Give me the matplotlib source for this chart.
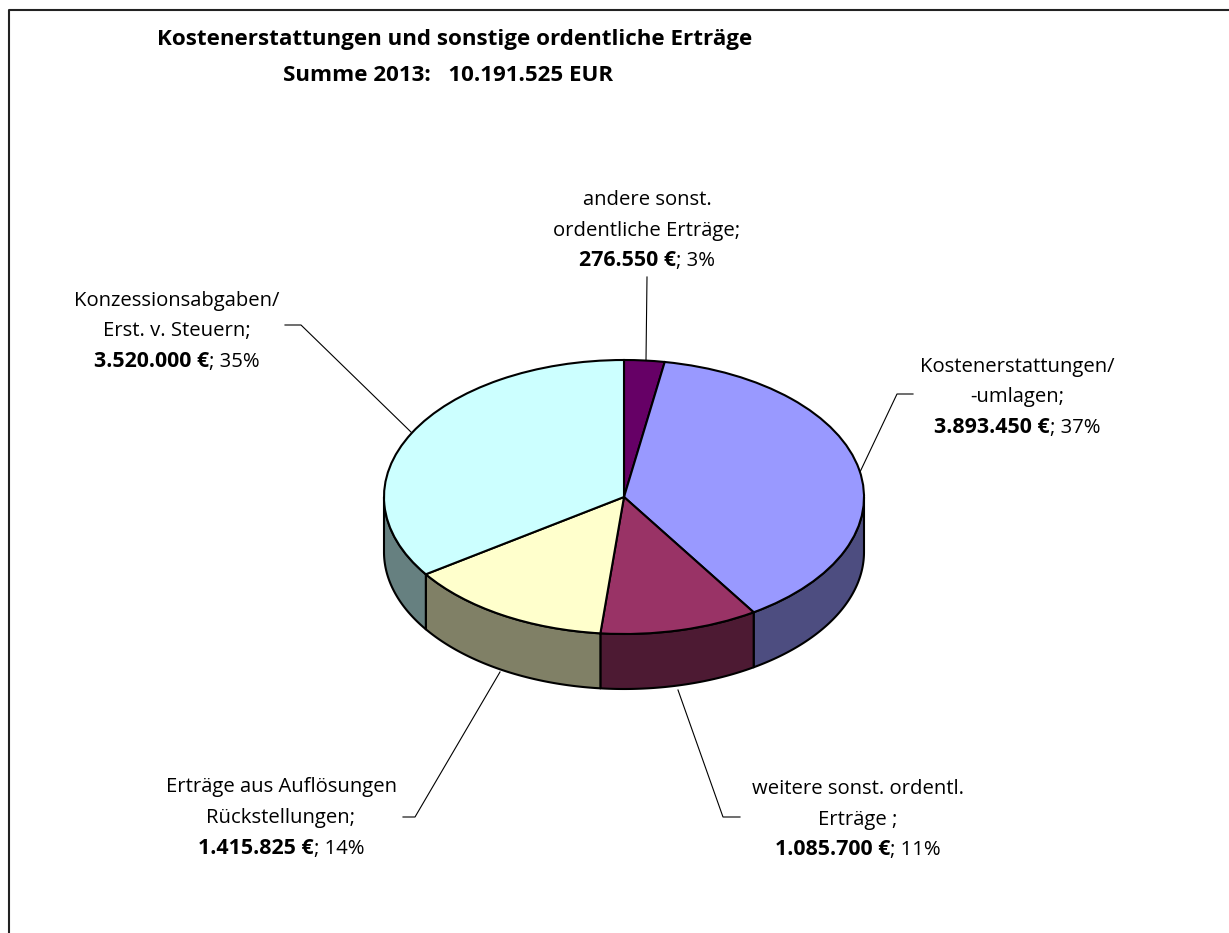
import matplotlib
matplotlib.use('Agg')
import matplotlib.pyplot as plt
import numpy as np
from matplotlib.transforms import Affine2D
from matplotlib.patches import Polygon

plt.rcParams['font.family'] = ['Open Sans', 'DejaVu Sans']

title = ['Kostenerstattungen und sonstige ordentliche Erträge',
         'Summe 2013:   10.191.525 EUR']
names = [['andere sonst.', 'ordentliche Erträge;'],
         ['Kostenerstattungen/', '-umlagen;'],
         ['weitere sonst. ordentl.', 'Erträge ;'],
         ['Erträge aus Auflösungen', 'Rückstellungen;'],
         ['Konzessionsabgaben/', 'Erst. v. Steuern;']]
values = [276550, 3893450, 1085700, 1415825, 3520000]
amounts = ['276.550 €', '3.893.450 €', '1.085.700 €', '1.415.825 €', '3.520.000 €']
percents = ['3%', '37%', '11%', '14%', '35%']
top_colors = ['#660066', '#9999FF', '#993366', '#FFFFCC', '#CCFFFF']
side_colors = ['#330033', '#4D4D80', '#4D1A33', '#808066', '#668080']

W, H = 1229, 933
cx, cy, rx, ry, depth = 624, H - 497, 240, 137, 55

# label layout, pixels from the top left of the picture (text baselines)
label_x = [647, 1017, 858, 281, 177]
label_y = [[205, 236, 266], [372, 402, 433], [794, 825, 855], [792, 823, 854], [306, 336, 367]]
leaders = [[(647, 277), (646, 360)],
           [(913, 394), (897, 394), (860, 472)],
           [(740, 817), (723, 817), (678, 690)],
           [(403, 817), (415, 817), (500, 672)],
           [(285, 325), (301, 325), (412, 433)]]

fig = plt.figure(figsize=(W / 100, H / 100), dpi=100)
ax = fig.add_axes([0, 0, 1, 1])

wedges, _ = ax.pie(values, colors=top_colors, startangle=90, counterclock=False,
                   center=(cx, cy), radius=rx,
                   wedgeprops=dict(edgecolor='black', linewidth=1.5, zorder=3))
squash = Affine2D().translate(-cx, -cy).scale(1, ry / rx).translate(cx, cy) + ax.transData
for w in wedges:
    w.set_transform(squash)

ax.set_aspect('auto')
ax.set_xlim(0, W)
ax.set_ylim(0, H)
ax.axis('off')

# side walls, only the part of the rim that faces the viewer
edges = np.cumsum([0] + values) / sum(values) * 2 * np.pi
for i in range(len(values)):
    a = max(edges[i], np.pi / 2)
    b = min(edges[i + 1], 3 * np.pi / 2)
    if b <= a:
        continue
    t = np.linspace(a, b, 80)
    x = cx + rx * np.sin(t)
    y = cy + ry * np.cos(t)
    pts = np.r_[np.c_[x, y], np.c_[x, y - depth][::-1]]
    ax.add_patch(Polygon(pts, closed=True, facecolor=side_colors[i], edgecolor='black',
                         linewidth=1.5, zorder=2, joinstyle='round'))

# frame: top and left only, the rest runs off the picture
ax.plot([9, 9, W], [0, H - 10, H - 10], color='#222222', lw=1.5, zorder=1)

for pts in leaders:
    ax.plot([p[0] for p in pts], [H - p[1] for p in pts], color='black', lw=0.8, zorder=1)

fs = 14.6
fs_bold = 15.4
ax.text(455, H - 45, title[0], fontsize=16.1, fontweight='bold', ha='center', va='baseline')
ax.text(448, H - 81, title[1], fontsize=16.1, fontweight='bold', ha='center', va='baseline')

fig.canvas.draw()
renderer = fig.canvas.get_renderer()
for i in range(len(values)):
    ax.text(label_x[i], H - label_y[i][0], names[i][0], fontsize=fs, ha='center', va='baseline')
    ax.text(label_x[i], H - label_y[i][1], names[i][1], fontsize=fs, ha='center', va='baseline')
    # last line is bold amount + regular percent, centred together
    t1 = ax.text(0, H - label_y[i][2], amounts[i], fontsize=fs_bold, fontweight='bold', ha='left', va='baseline')
    t2 = ax.text(0, H - label_y[i][2], '; ' + percents[i], fontsize=fs, ha='left', va='baseline')
    w1 = t1.get_window_extent(renderer).width
    w2 = t2.get_window_extent(renderer).width
    left = label_x[i] - (w1 + w2) / 2
    t1.set_x(left)
    t2.set_x(left + w1)

fig.savefig('out.png', dpi=100)
